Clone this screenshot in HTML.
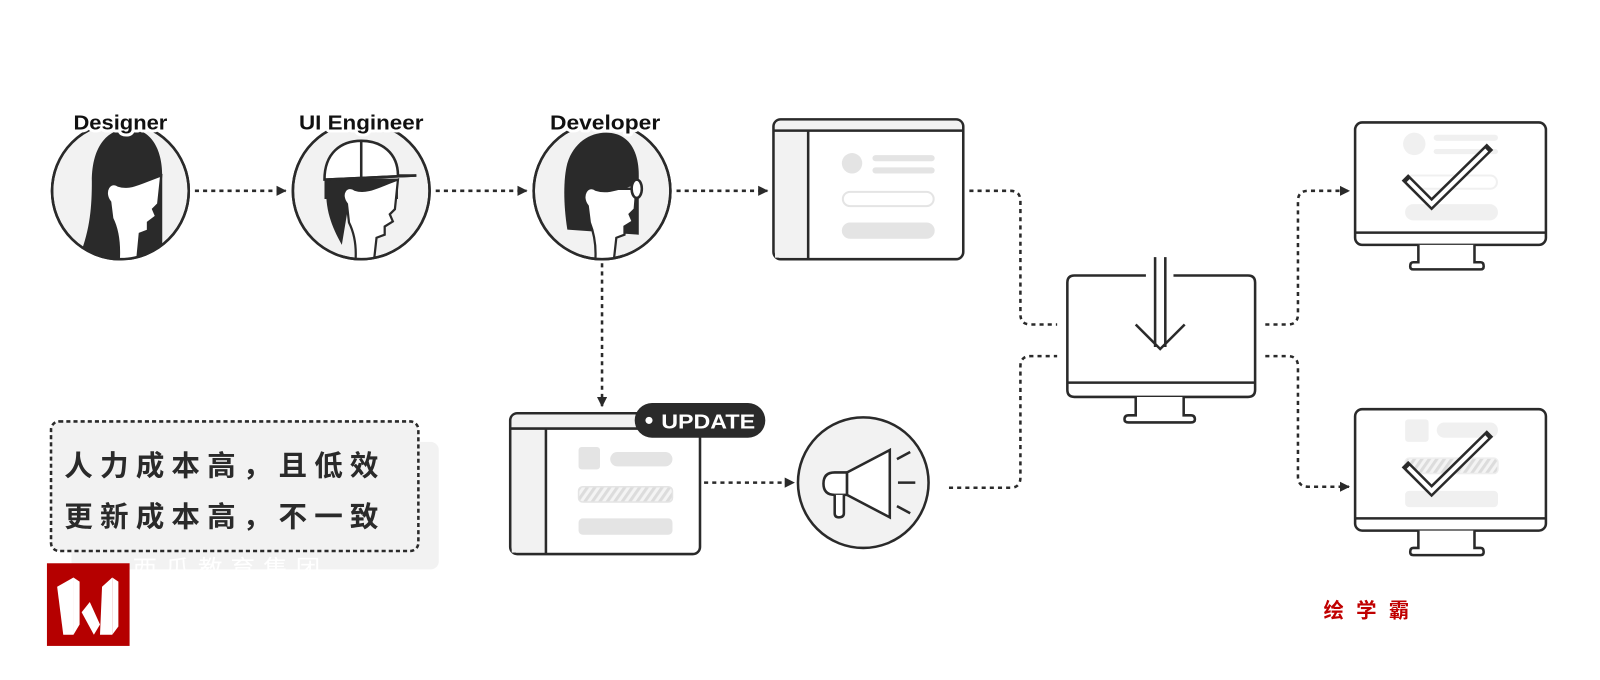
<!DOCTYPE html>
<html><head><meta charset="utf-8"><style>html,body{margin:0;padding:0;background:#fff}svg{display:block}</style></head><body>
<svg width="1600" height="680" viewBox="0 0 1568 666.4" xmlns="http://www.w3.org/2000/svg">
<defs>
<marker id="ah" markerWidth="10" markerHeight="10" refX="9" refY="5" orient="auto" markerUnits="userSpaceOnUse"><path d="M0,0 L10,5 L0,10 Z" fill="#2a2a2a"/></marker>
<pattern id="hatch" width="6" height="6" patternUnits="userSpaceOnUse" patternTransform="rotate(35)"><rect width="6" height="6" fill="#f4f4f4"/><rect width="3" height="6" fill="#dcdcdc"/></pattern>
<clipPath id="c1"><circle cx="118" cy="187" r="67"/></clipPath>
<clipPath id="c2"><circle cx="354" cy="187" r="67"/></clipPath>
<clipPath id="c3"><circle cx="590" cy="187" r="67"/></clipPath>
</defs>
<g fill="none" stroke="#2a2a2a" stroke-width="2.5">
<rect x="70" y="433" width="360" height="125" rx="8" fill="#f2f2f2" stroke="none"/>
<rect x="50" y="413" width="360" height="127" rx="8" fill="#f2f2f2" stroke-dasharray="4 3"/>
</g>
<text x="63" y="466" font-family="'Noto Sans CJK SC',sans-serif" font-weight="600" font-size="28" letter-spacing="7" fill="#2a2a2a">人力成本高，且低效</text>
<text x="63" y="516" font-family="'Noto Sans CJK SC',sans-serif" font-weight="600" font-size="28" letter-spacing="7" fill="#2a2a2a">更新成本高，不一致</text>
<text x="130" y="566" font-family="'Noto Sans CJK SC',sans-serif" font-size="24" letter-spacing="8" fill="#ffffff">西瓜教育集团</text>

<g stroke="#2a2a2a" stroke-width="2.5">
<circle cx="118" cy="187" r="67" fill="#f2f2f2"/>
<g clip-path="url(#c1)">
<path d="M74,260 C88,230 90,205 90,178 C90,140 108,126 126,126 C148,126 159,146 159,172 L159,260 Z" fill="#2a2a2a" stroke="none"/>
<path d="M108,198 C100,188 108,176 116,182 C128,186 140,178 158,172 L155,200 L150,205 L153,212 L145,218 L145,226 L137,229 L134,260 L116,260 C118,238 115,224 110,214 Z" fill="#fff" stroke-width="2.2"/>
</g>
<circle cx="118" cy="187" r="67" fill="none"/>
<circle cx="354" cy="187" r="67" fill="#f2f2f2"/>
<g clip-path="url(#c2)">
<path d="M320,180 C318,205 325,222 335,240 L345,180 Z" fill="#2a2a2a" stroke="none"/>
<path d="M318,175 L390,175 L390,195 L318,195 Z" fill="#2a2a2a" stroke="none"/>
<path d="M340,200 C332,190 340,180 348,186 C360,190 372,182 390,176 L387,205 L382,210 L385,217 L377,222 L377,230 L369,233 L366,260 L348,260 C350,242 347,228 342,218 Z" fill="#fff" stroke-width="2.2"/>
<path d="M318,176 C318,150 334,138 354,138 C374,138 390,150 390,172 L408,172 L318,176 Z" fill="#fff"/>
<line x1="354" y1="138" x2="354" y2="174"/>
<line x1="318" y1="176" x2="408" y2="172"/>
</g>
<circle cx="354" cy="187" r="67" fill="none"/>
<circle cx="590" cy="187" r="67" fill="#f2f2f2"/>
<g clip-path="url(#c3)">
<path d="M556,225 C552,200 552,175 556,160 C562,140 578,130 594,130 C614,130 626,145 626,172 L626,230 Z" fill="#2a2a2a" stroke="none"/>
<path d="M576,202 C568,192 576,180 584,186 C596,190 608,184 624,180 L622,205 L617,210 L620,217 L612,222 L612,230 L604,233 L601,260 L583,260 C585,242 582,228 578,218 Z" fill="#fff" stroke-width="2.2"/>
<line x1="596" y1="185" x2="620" y2="185"/>
<ellipse cx="624" cy="185" rx="5" ry="9" fill="#fff"/>
</g>
<circle cx="590" cy="187" r="67" fill="none"/>
</g>

<g font-family="'Liberation Sans',sans-serif" font-weight="bold" font-size="20" fill="#111" text-anchor="middle" stroke="#fff" stroke-width="6" paint-order="stroke" stroke-linejoin="round">
<text x="118" y="127" textLength="92" lengthAdjust="spacingAndGlyphs">Designer</text>
<text x="354" y="127" textLength="122" lengthAdjust="spacingAndGlyphs">UI Engineer</text>
<text x="593" y="127" textLength="108" lengthAdjust="spacingAndGlyphs">Developer</text>
</g>

<g fill="none" stroke="#2a2a2a" stroke-width="2.5" stroke-dasharray="4 4">
<line x1="191" y1="187" x2="280" y2="187" marker-end="url(#ah)"/>
<line x1="427" y1="187" x2="516" y2="187" marker-end="url(#ah)"/>
<line x1="663" y1="187" x2="752" y2="187" marker-end="url(#ah)"/>
<line x1="590" y1="258" x2="590" y2="398" marker-end="url(#ah)"/>
<line x1="690" y1="473" x2="778" y2="473" marker-end="url(#ah)"/>
<path d="M950,187 L990,187 Q1000,187 1000,197 L1000,308 Q1000,318 1010,318 L1036,318"/>
<path d="M930,478 L990,478 Q1000,478 1000,468 L1000,359 Q1000,349 1010,349 L1036,349"/>
<path d="M1240,318 L1262,318 Q1272,318 1272,308 L1272,197 Q1272,187 1282,187 L1322,187" marker-end="url(#ah)"/>
<path d="M1240,349 L1262,349 Q1272,349 1272,359 L1272,467 Q1272,477 1282,477 L1322,477" marker-end="url(#ah)"/>
</g>

<g stroke="#2a2a2a" stroke-width="2.5" fill="#fff">
<rect x="758" y="117" width="186" height="137" rx="7"/>
<path d="M759.5,127 L759.5,124 Q759.5,118.5 765,118.5 L937,118.5 Q942.5,118.5 942.5,124 L942.5,127 Z" fill="#f2f2f2" stroke="none"/>
<rect x="759.5" y="129.5" width="31" height="123" fill="#f2f2f2" stroke="none"/>
<path d="M758,128 L944,128 M792,128 L792,254" fill="none"/>
<g stroke="none" fill="#e4e4e4">
<circle cx="835" cy="160" r="10"/>
<rect x="855" y="152" width="61" height="6" rx="3"/>
<rect x="855" y="164" width="61" height="6" rx="3"/>
<rect x="825" y="218" width="91" height="16" rx="8"/>
</g>
<rect x="826" y="188" width="89" height="14" rx="7" stroke="#e4e4e4" stroke-width="2"/>

<rect x="500" y="405" width="186" height="138" rx="7"/>
<path d="M501.5,419 L501.5,412 Q501.5,406.5 507,406.5 L679,406.5 Q684.5,406.5 684.5,412 L684.5,419 Z" fill="#f2f2f2" stroke="none"/>
<rect x="501.5" y="421.5" width="32" height="120" fill="#f2f2f2" stroke="none"/>
<path d="M500,420 L686,420 M535,420 L535,543" fill="none"/>
<g stroke="none" fill="#e4e4e4">
<rect x="567" y="438" width="21" height="22" rx="3"/>
<rect x="598" y="443" width="61" height="14" rx="7"/>
<rect x="567" y="508" width="92" height="16" rx="4"/>
</g>
<rect x="567" y="477" width="92" height="15" rx="4" fill="url(#hatch)" stroke="#e4e4e4" stroke-width="1.5"/>

<rect x="622" y="395" width="128" height="34" rx="17" fill="#2a2a2a" stroke="none"/>
<circle cx="636" cy="412" r="3.5" fill="#fff" stroke="none"/>

<circle cx="846" cy="473" r="64" fill="#f2f2f2"/>
<path d="M830,463 L872,441 L872,507 L830,485 Z" fill="#fff"/>
<path d="M830,463 L818,463 Q807,463 807,474 Q807,485 818,485 L830,485 Z" fill="#fff"/>
<path d="M818,485 L818,503 Q818,507 822,507 Q827,507 827,503 L827,485" fill="#fff"/>
<path d="M879,450 L892,443 M880,473 L897,473 M879,496 L892,503" fill="none" stroke-width="2.5"/>

<path d="M1123,270 L1053,270 Q1046,270 1046,277 L1046,382 Q1046,389 1053,389 L1223,389 Q1230,389 1230,382 L1230,277 Q1230,270 1223,270 L1150,270" fill="#fff"/>
<line x1="1046" y1="375" x2="1230" y2="375"/>
<path d="M1113,389 L1113,407 L1106,407 Q1102,407 1102,411 Q1102,414 1106,414 L1167,414 Q1171,414 1171,411 Q1171,407 1167,407 L1160,407 L1160,389"/>
<path d="M1132,252 L1132,340 M1142,252 L1142,340" fill="none"/>
<path d="M1113,318 L1137,342 L1161,318" fill="none"/>

<rect x="1328" y="120" width="187" height="120" rx="7"/>
<line x1="1328" y1="228" x2="1515" y2="228"/>
<path d="M1390,240 L1390,257 L1385,257 Q1382,257 1382,261 Q1382,264 1385,264 L1451,264 Q1454,264 1454,261 Q1454,257 1451,257 L1445,257 L1445,240"/>
<g stroke="none" fill="#f0f0f0">
<circle cx="1386" cy="141" r="11"/>
<rect x="1405" y="132" width="63" height="6" rx="3"/>
<rect x="1405" y="146" width="63" height="5" rx="2.5"/>
<rect x="1377" y="200" width="91" height="16" rx="8"/>
</g>
<rect x="1378" y="172" width="89" height="13" rx="6.5" stroke="#f0f0f0" stroke-width="2"/>
<polyline points="1380,177 1403,200 1457,147" fill="none" stroke-width="9" stroke-linecap="square"/>
<polyline points="1380,177 1403,200 1457,147" fill="none" stroke="#fff" stroke-width="4"/>

<rect x="1328" y="401" width="187" height="119" rx="7"/>
<line x1="1328" y1="508" x2="1515" y2="508"/>
<path d="M1390,520 L1390,537 L1385,537 Q1382,537 1382,541 Q1382,544 1385,544 L1451,544 Q1454,544 1454,541 Q1454,537 1451,537 L1445,537 L1445,520"/>
<g stroke="none" fill="#f0f0f0">
<rect x="1377" y="411" width="23" height="22" rx="3"/>
<rect x="1408" y="414" width="60" height="15" rx="7.5"/>
<rect x="1377" y="481" width="91" height="16" rx="4"/>
</g>
<rect x="1377" y="449" width="91" height="15" rx="4" fill="url(#hatch)" stroke="#eee" stroke-width="1.5"/>
<polyline points="1380,458 1403,481 1457,428" fill="none" stroke-width="9" stroke-linecap="square"/>
<polyline points="1380,458 1403,481 1457,428" fill="none" stroke="#fff" stroke-width="4"/>
</g>

<text x="648" y="420" font-family="'Liberation Sans',sans-serif" font-weight="bold" font-size="20" fill="#fff" textLength="92" lengthAdjust="spacingAndGlyphs">UPDATE</text>

<rect x="46" y="552" width="81" height="81" fill="#b50000"/>
<g fill="#fff">
<polygon points="56,575 72,566 72,622 62,622"/>
<polygon points="72,566 78,570 78,612 72,622"/>
<polygon points="80,600 88,590 98,612 92,622"/>
<polygon points="100,575 110,566 110,622 98,622"/>
<polygon points="110,566 116,570 116,614 110,622"/>
</g>
<text x="1297" y="605" font-family="'Noto Sans CJK SC',sans-serif" font-weight="bold" font-size="20" letter-spacing="12" fill="#c00000">绘学霸</text>
</svg>
</body></html>
